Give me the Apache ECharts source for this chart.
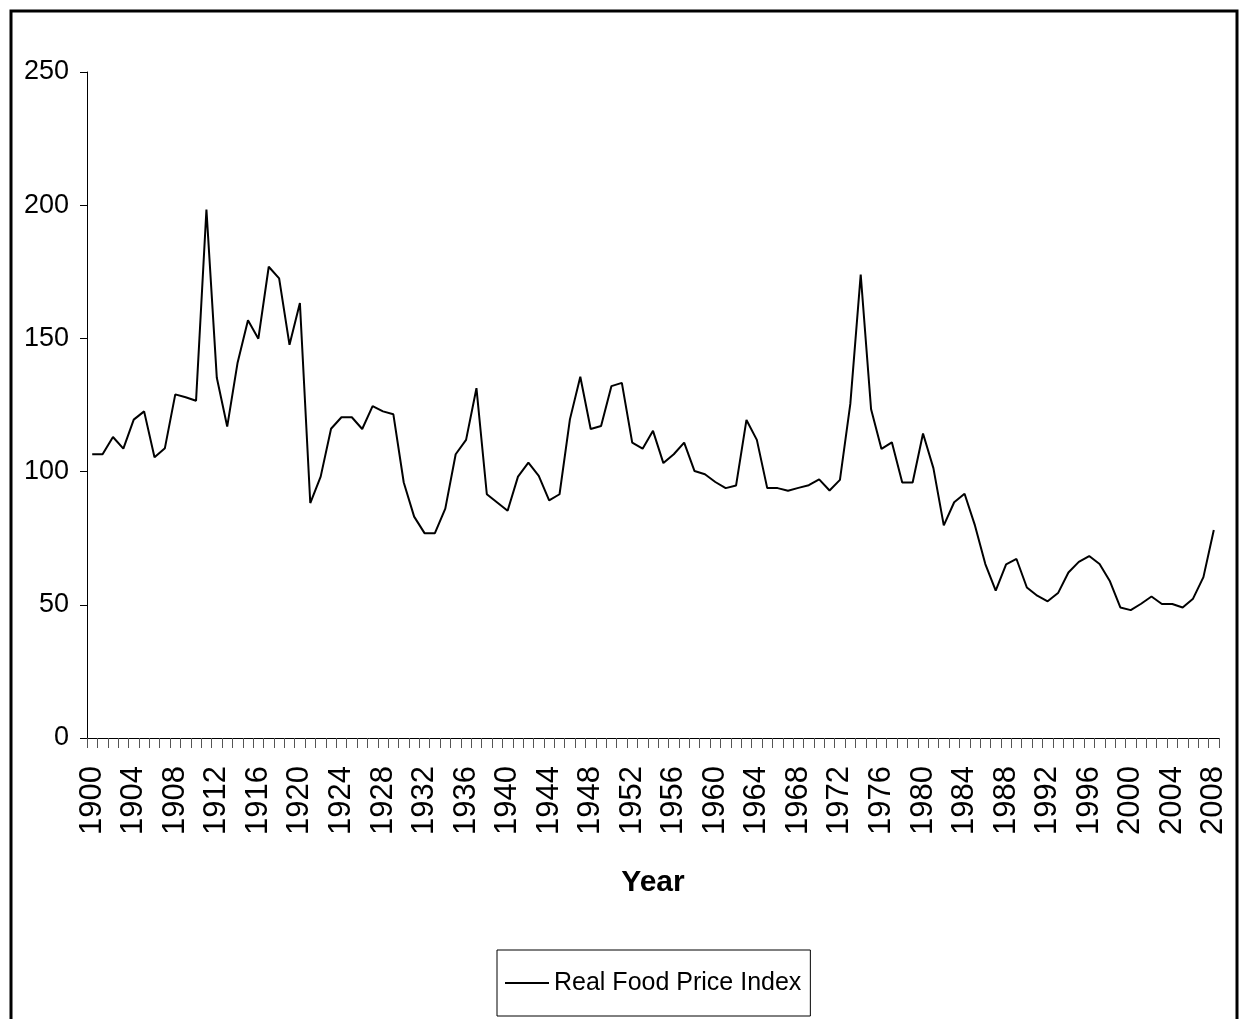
<!DOCTYPE html>
<html>
<head>
<meta charset="utf-8">
<style>
html,body{margin:0;padding:0;background:#fff;}
#chart{width:1242px;height:1019px;}
</style>
<script src="https://cdn.jsdelivr.net/npm/echarts@6/dist/echarts.min.js"></script>
</head>
<body>
<div id="chart"></div>
<script>
var startYear = 1900;
var endYear = 2008;
var years = [];
for (var y = startYear; y <= endYear; y++) years.push(String(y));

var seriesName = 'Real Food Price Index';
var foodPriceIndex = [
  106.5, 106.5, 113, 108.6, 119.5, 122.6, 105.4, 108.8, 129, 127.9,
  126.6, 198.4, 135.2, 116.9, 140.9, 156.8, 149.9, 176.9, 172.5, 147.6,
  163.3, 88.2, 98.1, 116.1, 120.4, 120.4, 116, 124.6, 122.6, 121.5,
  95.9, 83.1, 76.9, 76.9, 86.1, 106.5, 111.9, 131.3, 91.5, 88.4,
  85.3, 98.1, 103.4, 98.4, 89.2, 91.5, 119.6, 135.6, 116, 117.1,
  132.1, 133.3, 110.9, 108.6, 115.3, 103.2, 106.5, 110.9, 100.2, 99,
  96.1, 93.8, 94.8, 119.4, 111.9, 93.8, 93.8, 92.8, 93.9, 94.9,
  97.1, 92.9, 96.9, 125.4, 174, 123.4, 108.5, 111, 95.9, 95.9,
  114.3, 101.3, 79.8, 88.5, 91.7, 79.8, 65.3, 55.3, 65.2, 67.2,
  56.5, 53.4, 51.3, 54.4, 62.1, 66.1, 68.3, 65.3, 58.8, 49,
  48, 50.4, 53.1, 50.3, 50.3, 49, 52.3, 60.4, 78.1
];
var yMin = 0, yMax = 250, yStep = 50;
var xTitle = 'Year';

var regular = '"Liberation Sans", Arial, sans-serif';

var chart = echarts.init(document.getElementById('chart'), null, {renderer: 'canvas'});
chart.setOption({
  backgroundColor: '#ffffff',
  animation: false,
  graphic: [{
    type: 'rect',
    shape: {x: 11, y: 11, width: 1226, height: 1040},
    style: {fill: 'none', stroke: '#000', lineWidth: 3},
    silent: true,
    z: 100
  }],
  grid: {left: 87, right: 23, top: 72, bottom: 281, containLabel: false},
  xAxis: {
    type: 'category',
    data: years,
    boundaryGap: true,
    name: xTitle,
    nameLocation: 'middle',
    nameGap: 130,
    nameTextStyle: {fontFamily: regular, fontWeight: 'bold', fontSize: 30, color: '#000', verticalAlign: 'top'},
    axisLine: {show: true, lineStyle: {color: '#000', width: 1}},
    axisTick: {show: true, interval: 0, length: 10, inside: false, lineStyle: {color: '#555', width: 1}},
    axisLabel: {interval: 3, rotate: 90, margin: 28, fontFamily: regular, fontSize: 31, color: '#000'},
    splitLine: {show: false}
  },
  yAxis: {
    type: 'value',
    min: yMin, max: yMax, interval: yStep,
    axisLine: {show: true, lineStyle: {color: '#000', width: 1}},
    axisTick: {show: true, length: 7, inside: false, lineStyle: {color: '#000', width: 1}},
    axisLabel: {margin: 18, fontFamily: regular, fontSize: 27, color: '#000'},
    splitLine: {show: false}
  },
  legend: {
    left: 497, top: 950,
    orient: 'horizontal',
    borderColor: '#000', borderWidth: 1,
    padding: [18, 9, 18, 8],
    itemWidth: 44, itemHeight: 2,
    itemGap: 6,
    icon: 'rect',
    textStyle: {fontFamily: regular, fontSize: 25, color: '#000', lineHeight: 30},
    data: [{name: seriesName, icon: 'rect', itemStyle: {color: '#000'}}]
  },
  series: [{
    name: seriesName,
    type: 'line',
    data: foodPriceIndex,
    symbol: 'none',
    showSymbol: false,
    lineStyle: {color: '#000', width: 2},
    itemStyle: {color: '#000'}
  }]
});
</script>
</body>
</html>
